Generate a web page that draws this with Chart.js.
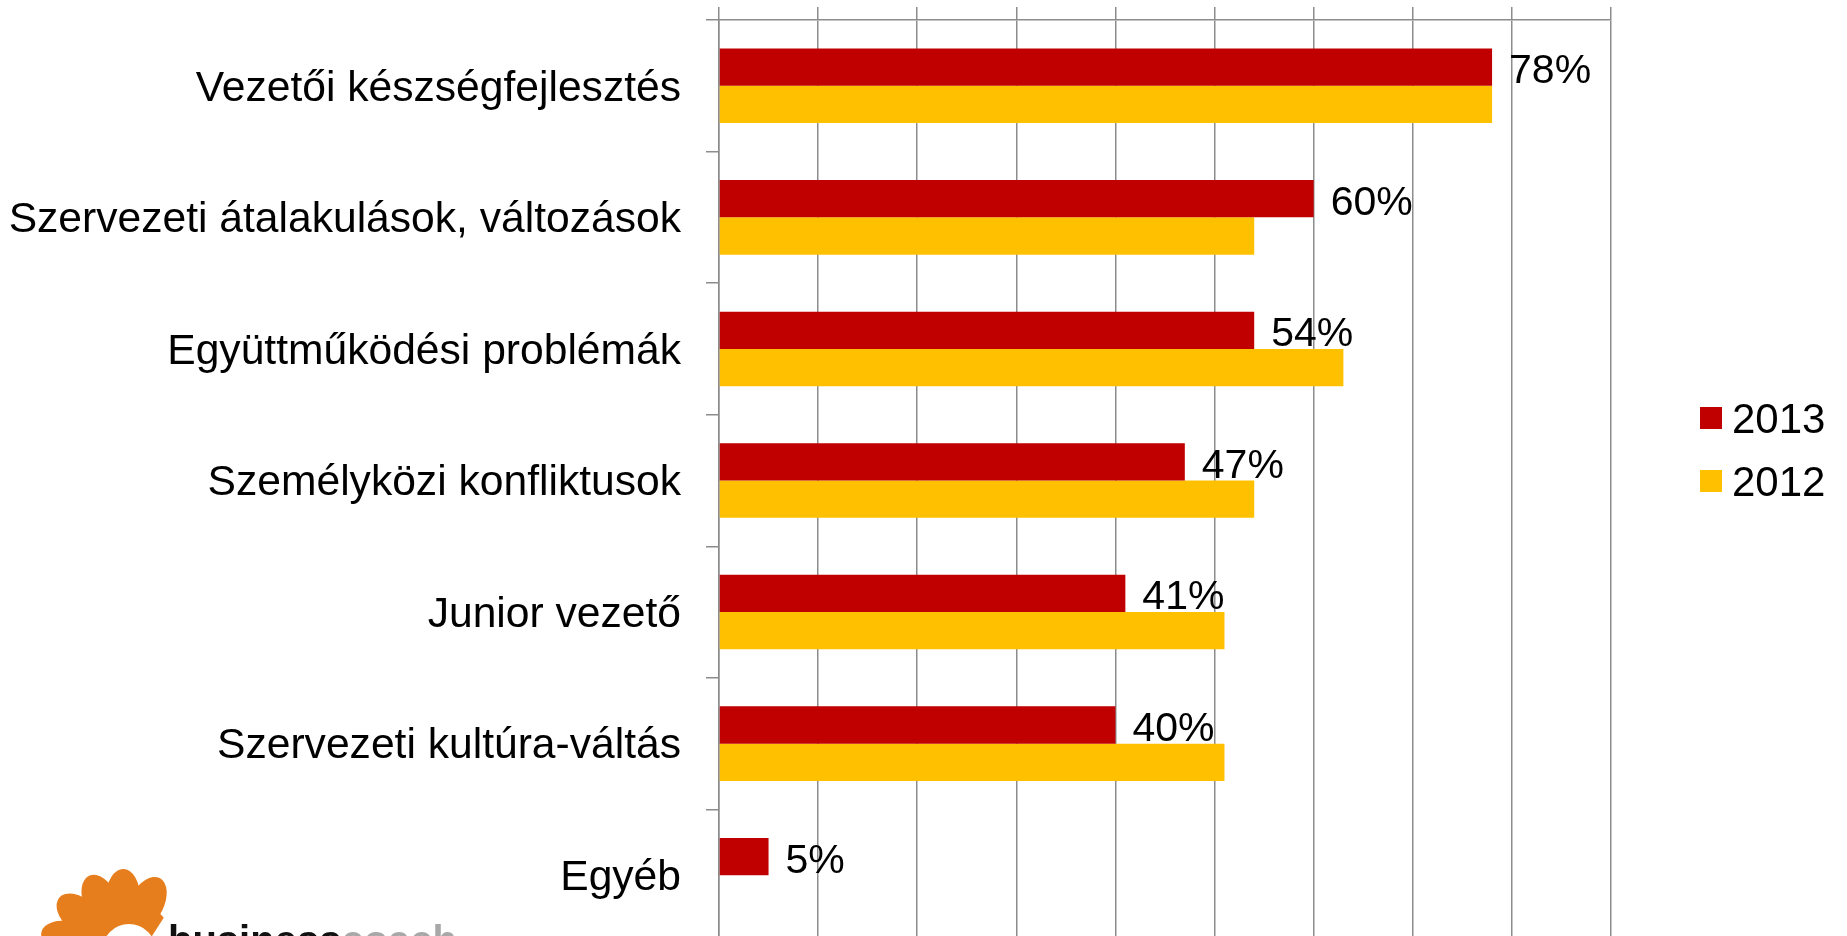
<!DOCTYPE html>
<html>
<head>
<meta charset="utf-8">
<script src="https://cdn.jsdelivr.net/npm/chart.js@4/dist/chart.umd.min.js"></script>
<style>
  html, body { margin: 0; padding: 0; background: #fff; overflow: hidden; }
  #wrap { width: 1847px; height: 941px; }
</style>
</head>
<body>
<div id="wrap"><canvas id="bar-chart" width="1847" height="941"></canvas></div>
<script>
const categories = [
    'Vezetői készségfejlesztés',
    'Szervezeti átalakulások, változások',
    'Együttműködési problémák',
    'Személyközi konfliktusok',
    'Junior vezető',
    'Szervezeti kultúra-váltás',
    'Egyéb'
]
const seriesNames = ['2013', '2012']
const values2013 = [78, 60, 54, 47, 41, 40, 5]
const values2012 = [78, 54, 63, 54, 51, 51, null]
const seriesColors = ['#C00000', '#FFC000']

const FONT = '"Liberation Sans", Arial, sans-serif'
const GRID = '#8c8c8c'

// value labels for the 2013 series, right of each red bar
const valueLabels = {
    id: 'valueLabels',
    afterDatasetsDraw(chart) {
        const ctx = chart.ctx
        const meta = chart.getDatasetMeta(0)
        ctx.save()
        ctx.font = '41px ' + FONT
        ctx.fillStyle = '#000'
        ctx.textAlign = 'left'
        ctx.textBaseline = 'alphabetic'
        meta.data.forEach((bar, i) => {
            const v = chart.data.datasets[0].data[i]
            if (v == null) return
            ctx.fillText(v + '%', bar.x + 17, bar.y + 16)
        })
        ctx.restore()
    }
}

// legend on the right, drawn from dataset labels/colours
const sideLegend = {
    id: 'sideLegend',
    afterDraw(chart) {
        const ctx = chart.ctx
        ctx.save()
        ctx.font = '42px ' + FONT
        ctx.textBaseline = 'alphabetic'
        chart.data.datasets.forEach((ds, i) => {
            const cy = 418 + i * 63
            ctx.fillStyle = ds.backgroundColor
            ctx.fillRect(1700, cy - 11, 22, 22)
            ctx.fillStyle = '#000'
            ctx.fillText(ds.label, 1732, cy + 15)
        })
        ctx.restore()
    }
}

// businesscoach logo, bottom left
const logo = {
    id: 'logo',
    afterDraw(chart) {
        const ctx = chart.ctx
        const cx = 122, cy = 952
        ctx.save()
        ctx.fillStyle = '#E77E1D'
        ctx.beginPath()
        ctx.arc(cx, cy, 54, 0, Math.PI * 2)
        ctx.fill()
        const angles = [194, 221, 247, 271, 297]
        angles.forEach(a => {
            const r = a * Math.PI / 180
            ctx.beginPath()
            ctx.ellipse(cx + Math.cos(r) * 55, cy + Math.sin(r) * 55, 28, 17, r, 0, Math.PI * 2)
            ctx.fill()
        })
        ctx.fillStyle = '#fff'
        ctx.beginPath()
        ctx.arc(129, 951, 27, 0, Math.PI * 2)
        ctx.fill()
        ctx.beginPath()
        ctx.moveTo(152, 936)
        ctx.lineTo(170, 908)
        ctx.lineTo(200, 908)
        ctx.lineTo(200, 941)
        ctx.closePath()
        ctx.fill()
        ctx.font = 'bold 40px ' + FONT
        ctx.textBaseline = 'alphabetic'
        ctx.fillStyle = '#111'
        ctx.fillText('business', 168, 954)
        const w = ctx.measureText('business').width
        ctx.fillStyle = '#a8a8a8'
        ctx.fillText('coach', 168 + w, 954)
        ctx.restore()
    }
}

const data = {
    labels: categories,
    datasets: [{
        label: seriesNames[0],
        data: values2013,
        backgroundColor: seriesColors[0]
    }, {
        label: seriesNames[1],
        data: values2012,
        backgroundColor: seriesColors[1]
    }]
}

const config = {
    type: 'bar',
    data: data,
    options: {
        indexAxis: 'y',
        responsive: false,
        animation: false,
        devicePixelRatio: 1,
        categoryPercentage: 0.567,
        barPercentage: 1.0,
        layout: {
            autoPadding: false,
            padding: { top: 7, right: 236, left: 0, bottom: 0 }
        },
        plugins: {
            legend: { display: false },
            tooltip: { enabled: false }
        },
        scales: {
            x: {
                position: 'top',
                min: 0,
                max: 90,
                ticks: { display: false, stepSize: 10 },
                grid: { color: GRID, lineWidth: 1.5, tickLength: 13, drawTicks: true },
                border: { color: GRID, width: 1.5 }
            },
            y: {
                afterFit(scale) {
                    scale.width = 719
                    scale.paddingTop = 0
                    scale.paddingBottom = 0
                },
                ticks: {
                    color: '#000',
                    padding: 25,
                    labelOffset: 3,
                    font: { family: FONT, size: 42.6 }
                },
                grid: { color: GRID, lineWidth: 1.5, tickLength: 13, drawOnChartArea: false },
                border: { color: GRID, width: 1.5 }
            }
        }
    },
    plugins: [valueLabels, sideLegend, logo]
}

const myChart = new Chart(document.getElementById('bar-chart'), config)
</script>
</body>
</html>
